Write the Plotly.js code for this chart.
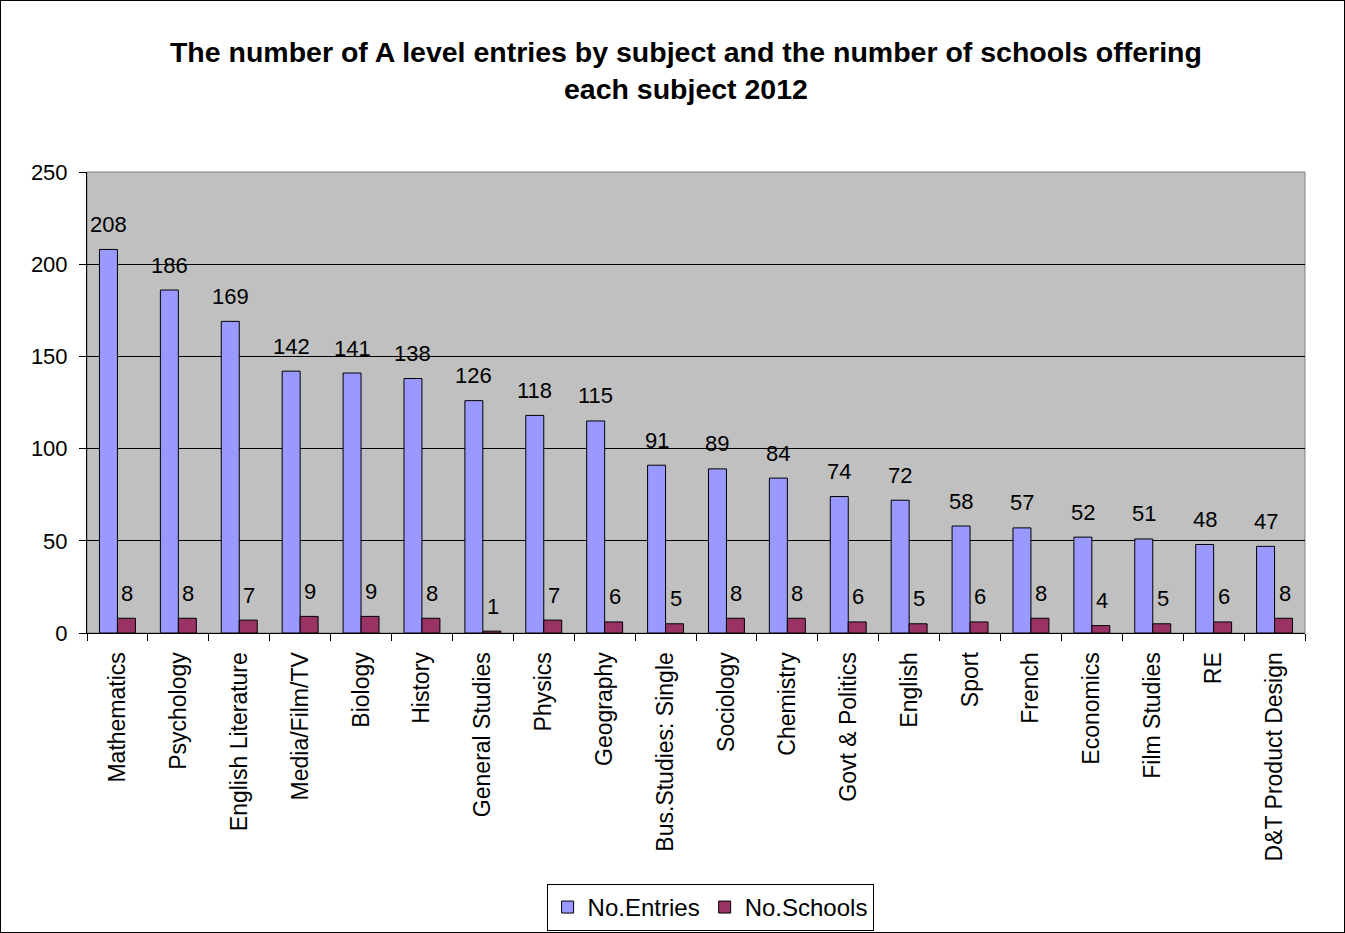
<!DOCTYPE html>
<html>
<head>
<meta charset="utf-8">
<script src="https://cdn.plot.ly/plotly-3.0.1.min.js"></script>
<style>
html,body{margin:0;padding:0;background:#fff;}
#chart{width:1343px;height:931px;border:1px solid #000;}
</style>
</head>
<body>
<div id="chart"></div>
<script>
const subjects = ["Mathematics","Psychology","English Literature","Media/Film/TV","Biology","History","General Studies","Physics","Geography","Bus.Studies: Single","Sociology","Chemistry","Govt & Politics","English","Sport","French","Economics","Film Studies","RE","D&T Product Design"];
const entries = [208,186,169,142,141,138,126,118,115,91,89,84,74,72,58,57,52,51,48,47];
const schools = [8,8,7,9,9,8,1,7,6,5,8,8,6,5,6,8,4,5,6,8];
const yTicks = [0,50,100,150,200,250];

const FONT = "Liberation Sans, Arial, sans-serif";

const traces = [
  {type:'bar', name:'No.Entries', x:subjects, y:entries,
   marker:{color:'#9999FF', line:{color:'#000', width:1}}},
  {type:'bar', name:'No.Schools', x:subjects, y:schools,
   marker:{color:'#993366', line:{color:'#000', width:1}}}
];

const annotations = [];
subjects.forEach((s,i)=>{
  annotations.push({x:s, y:entries[i], xref:'x', yref:'y', text:String(entries[i]),
    showarrow:false, xshift:-9, yshift:25, yanchor:'middle',
    font:{family:FONT, size:22, color:'#000'}});
  annotations.push({x:s, y:schools[i], xref:'x', yref:'y', text:String(schools[i]),
    showarrow:false, xshift:10, yshift:25, yanchor:'middle',
    font:{family:FONT, size:22, color:'#000'}});
});

const layout = {
  width:1343, height:931,
  margin:{l:86, r:39, t:171, b:299},
  paper_bgcolor:'#fff', plot_bgcolor:'#C0C0C0',
  font:{family:FONT, size:22, color:'#000'},
  title:{text:'<b>The number of A level entries by subject and the number of schools offering<br>each subject 2012</b>',
    x:0.51, xanchor:'center', y:0.935, yanchor:'middle', yref:'container',
    font:{family:FONT, size:28.5, color:'#000'}},
  barmode:'group', bargap:0.41, bargroupgap:0,
  xaxis:{type:'category', tickangle:-90, showline:true, linecolor:'#000', linewidth:1,
    ticks:'outside', tickson:'boundaries', ticklen:7, tickcolor:'#000', automargin:false,
    ticklabelstandoff:9,
    showgrid:false, tickfont:{family:FONT, size:23}},
  yaxis:{range:[0,250], tickvals:yTicks, ticktext:yTicks.map(String), showline:true, linecolor:'#000', linewidth:1,
    ticks:'outside', ticklen:7, tickcolor:'#000', showgrid:true, gridcolor:'#000', gridwidth:1,
    automargin:false, ticklabelstandoff:7,
    zeroline:false, tickfont:{family:FONT, size:22}},
  shapes:[{type:'rect', xref:'paper', yref:'paper', x0:0, x1:1, y0:0, y1:1,
    line:{color:'#808080', width:1}, layer:'below'}],
  legend:{orientation:'h', x:0.528, xanchor:'center', xref:'container', y:0.0516, yanchor:'top', yref:'container',
    bordercolor:'#000', borderwidth:1, font:{family:FONT, size:24}, bgcolor:'#fff'},
  annotations:annotations,
  showlegend:true
};

Plotly.newPlot('chart', traces, layout, {displayModeBar:false});
</script>
</body>
</html>
